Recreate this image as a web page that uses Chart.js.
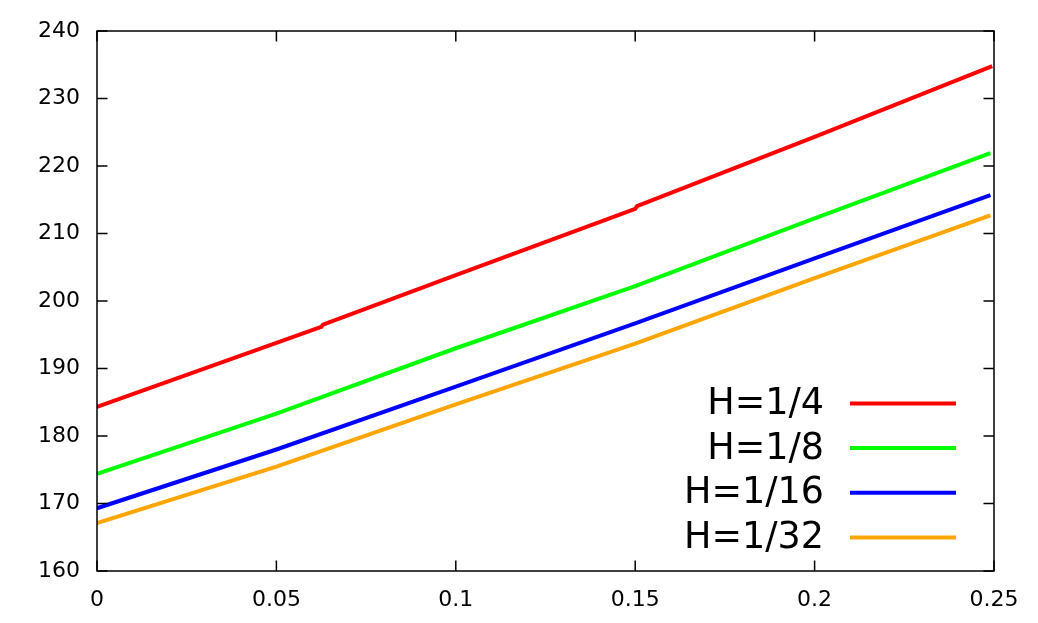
<!DOCTYPE html>
<html>
<head>
<meta charset="utf-8">
<script src="https://cdn.jsdelivr.net/npm/chart.js@4.4.1/dist/chart.umd.min.js"></script>
<style>
  html, body { margin: 0; padding: 0; background: #fff; }
  #wrap { width: 1038px; height: 623px; }
</style>
</head>
<body>
<div id="wrap"><canvas id="c" width="1038" height="623"></canvas></div>
<script>
// ---- data ----
const seriesLabels = ["H=1/4", "H=1/8", "H=1/16", "H=1/32"];
const seriesColors = ["#ff0000", "#00ff00", "#0000ff", "#ffa500"];

const xRed = [0, 0.05, 0.0625, 0.063, 0.1, 0.15, 0.1505, 0.2, 0.2495];
const yRed = [184.3, 193.8, 196.15, 196.5, 203.85, 213.65, 214.05, 224.3, 234.8];

const xOthers = [0, 0.05, 0.1, 0.15, 0.2, 0.249];
const yGreen  = [174.4, 183.3, 193.0, 202.2, 212.25, 221.9];
const yBlue   = [169.3, 178.0, 187.3, 196.7, 206.3, 215.7];
const yOrange = [167.1, 175.45, 184.7, 193.7, 203.4, 212.7];

const xTicks = [0, 0.05, 0.1, 0.15, 0.2, 0.25];
const yTicks = [160, 170, 180, 190, 200, 210, 220, 230, 240];

function pts(xs, ys) { return xs.map((x, i) => ({ x: x, y: ys[i] })); }

const seriesData = [
  pts(xRed, yRed),
  pts(xOthers, yGreen),
  pts(xOthers, yBlue),
  pts(xOthers, yOrange)
];

const FONT = "'DejaVu Sans', 'Liberation Sans', sans-serif";

const framePlugin = {
  id: 'frame',
  afterDraw(chart) {
    const ctx = chart.ctx;
    const a = chart.chartArea;
    const xs = chart.scales.x, ys = chart.scales.y;
    ctx.save();
    // frame
    ctx.strokeStyle = '#000';
    ctx.lineWidth = 1.5;
    ctx.strokeRect(a.left, a.top, a.right - a.left, a.bottom - a.top);
    // inward ticks on all sides
    const L = 10.5;
    ctx.beginPath();
    xTicks.forEach(v => {
      const p = xs.getPixelForValue(v);
      ctx.moveTo(p, a.bottom); ctx.lineTo(p, a.bottom - L);
      ctx.moveTo(p, a.top); ctx.lineTo(p, a.top + L);
    });
    yTicks.forEach(v => {
      const p = ys.getPixelForValue(v);
      ctx.moveTo(a.left, p); ctx.lineTo(a.left + L, p);
      ctx.moveTo(a.right, p); ctx.lineTo(a.right - L, p);
    });
    ctx.stroke();
    // legend
    const textRight = a.right - 170;
    const lineStart = a.right - 144;
    const lineEnd = a.right - 38;
    const rowGap = 44.7;
    const lastRow = a.bottom - 33.5;
    ctx.font = '36.5px ' + FONT;
    ctx.textAlign = 'right';
    ctx.textBaseline = 'middle';
    const n = chart.data.datasets.length;
    chart.data.datasets.forEach((ds, i) => {
      const y = lastRow - (n - 1 - i) * rowGap;
      ctx.fillStyle = '#000';
      ctx.fillText(ds.label, textRight, y + 1);
      ctx.strokeStyle = ds.borderColor;
      ctx.lineWidth = 4;
      ctx.beginPath();
      ctx.moveTo(lineStart, y); ctx.lineTo(lineEnd, y);
      ctx.stroke();
    });
    ctx.restore();
  }
};

new Chart(document.getElementById('c'), {
  type: 'line',
  data: {
    datasets: seriesData.map((d, i) => ({
      label: seriesLabels[i],
      data: d,
      borderColor: seriesColors[i],
      backgroundColor: seriesColors[i],
      borderWidth: 4,
      borderJoinStyle: 'round',
      borderCapStyle: 'butt',
      pointRadius: 0,
      tension: 0,
      fill: false
    }))
  },
  options: {
    responsive: false,
    devicePixelRatio: 1,
    animation: false,
    layout: { padding: { left: 0, right: 44, top: 31, bottom: 0 } },
    plugins: { legend: { display: false }, tooltip: { enabled: false } },
    scales: {
      x: {
        type: 'linear',
        min: 0, max: 0.25,
        afterBuildTicks(s) { s.ticks = xTicks.map(v => ({ value: v })); },
        afterFit(s) { s.height = 52; },
        grid: { display: false, drawTicks: false },
        border: { display: false },
        ticks: {
          padding: 16,
          color: '#000',
          font: { family: FONT, size: 22 },
          maxRotation: 0,
          autoSkip: false,
          callback: v => String(parseFloat(Number(v).toFixed(2)))
        }
      },
      y: {
        type: 'linear',
        min: 160, max: 240,
        afterBuildTicks(s) { s.ticks = yTicks.map(v => ({ value: v })); },
        afterFit(s) { s.width = 97; },
        grid: { display: false, drawTicks: false },
        border: { display: false },
        ticks: {
          padding: 17,
          color: '#000',
          font: { family: FONT, size: 22 },
          autoSkip: false,
          callback: v => String(v)
        }
      }
    }
  },
  plugins: [framePlugin]
});
</script>
</body>
</html>
